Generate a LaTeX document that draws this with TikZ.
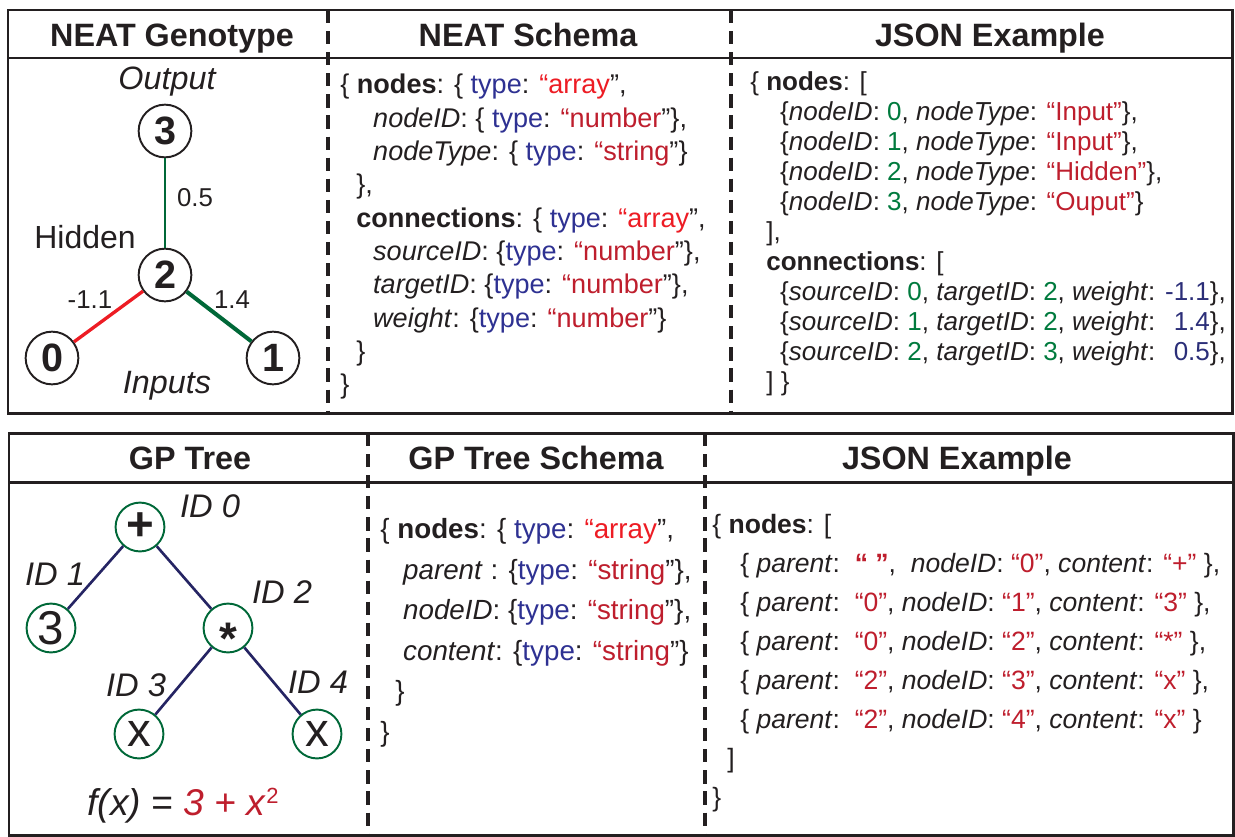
\documentclass[tikz,border=0pt]{standalone}
\usepackage{fontspec}
\setmainfont{Liberation Sans}
\usetikzlibrary{positioning}

\definecolor{ink}{RGB}{35,31,32}
\definecolor{typeblue}{RGB}{46,49,146}
\definecolor{arrred}{RGB}{237,28,36}
\definecolor{strred}{RGB}{190,30,45}
\definecolor{numgreen}{RGB}{0,122,61}
\definecolor{wnavy}{RGB}{43,46,120}
\definecolor{linkgreen}{RGB}{0,104,56}
\definecolor{linkred}{RGB}{237,28,36}
\definecolor{treenavy}{RGB}{37,36,99}

% bits of the json text
\newcommand{\jkey}[1]{\textbf{#1}}
\newcommand{\jfld}[1]{\textit{#1}}
\newcommand{\jtype}{\textcolor{typeblue}{type}}
\newcommand{\jarr}{\textcolor{arrred}{“array}”}
\newcommand{\jsch}[1]{\textcolor{strred}{“#1}”}
\newcommand{\jstr}[1]{\textcolor{strred}{“#1”}}
\newcommand{\jnum}[1]{\textcolor{numgreen}{#1}}
\newcommand{\jw}[1]{\textcolor{wnavy}{#1}}

\begin{document}
\begin{tikzpicture}[x=0.02cm, y=-0.02cm, color=ink,
    box/.style={line width=1.7pt, draw=ink},
    sep/.style={line width=1.9pt, dash pattern=on 7.5pt off 4.5pt, draw=ink},
    head/.style={anchor=base, font=\fontsize{18.4}{22}\selectfont\bfseries},
    neuron/.style={circle, draw=ink, line width=1.1pt, minimum size=30pt, inner sep=0pt, font=\fontsize{22.5}{26}\selectfont\bfseries},
    gpnode/.style={circle, draw=linkgreen, line width=1.1pt, minimum size=27.8pt, inner sep=0pt, font=\fontsize{27}{30}\selectfont},
    wlbl/.style={anchor=base, font=\fontsize{14.7}{17}\selectfont},
    glbl/.style={anchor=base, font=\fontsize{18.2}{21}\selectfont},
    idlbl/.style={anchor=base, font=\fontsize{18.6}{21}\selectfont\itshape},
    code/.style={anchor=north west, align=left, inner sep=0pt}]
\useasboundingbox (0,0) rectangle (1235,836);

% top panel
\draw[box] (8,10) rectangle (1232,413);
\draw[box] (8,58) -- (1232,58);
\draw[sep] (328,10) -- (328,413);
\draw[sep] (731,10) -- (731,413);
\node[head] (hgeno) at (172,46) {NEAT Genotype};
\node[head] (hschema) at (528,46) {NEAT Schema};
\node[head] (hjson) at (990,46) {JSON Example};

% the network
\node[neuron] (n3) at (165,131) {3};
\node[neuron] (n2) at (165,275) {2};
\node[neuron] (n0) at (52,358) {0};
\node[neuron] (n1) at (273,358) {1};
\draw[linkgreen, line width=1pt] (n3) -- (n2);
\draw[linkred, line width=1.9pt] (n2) -- (n0);
\draw[linkgreen, line width=2.3pt] (n2) -- (n1);
\node[glbl, font=\fontsize{18.4}{21}\selectfont\itshape] (lout) at (167,89) {Output};
\node[glbl] (lhid) at (85,248) {Hidden};
\node[glbl, font=\fontsize{18.4}{21}\selectfont\itshape] (linp) at (167,393) {Inputs};
\node[wlbl] (w32) at (195,206) {0.5};
\node[wlbl] (w02) at (90,308) {-1.1};
\node[wlbl] (w12) at (232,308) {1.4};

\node[code, font=\fontsize{15.4}{18.95}\selectfont] (neatschema) at (340,74) {%
\{ \jkey{nodes}: \{ \jtype: \jarr,\\
\hspace*{18.7pt}\jfld{nodeID}: \{ \jtype: \jsch{number}\},\\
\hspace*{18.7pt}\jfld{nodeType}: \{ \jtype: \jsch{string}\}\\
\hspace*{9.1pt}\},\\
\hspace*{9.1pt}\jkey{connections}: \{ \jtype: \jarr,\\
\hspace*{18.7pt}\jfld{sourceID}: \{\jtype: \jsch{number}\},\\
\hspace*{18.7pt}\jfld{targetID}: \{\jtype: \jsch{number}\},\\
\hspace*{18.7pt}\jfld{weight}: \{\jtype: \jsch{number}\}\\
\hspace*{9.1pt}\}\\
\}};

\node[code, font=\fontsize{14.8}{17.1}\selectfont] (neatjson) at (750,71) {%
\{ \jkey{nodes}: [\\
\hspace*{17pt}\{\jfld{nodeID}: \jnum{0}, \jfld{nodeType}: \jstr{Input}\},\\
\hspace*{17pt}\{\jfld{nodeID}: \jnum{1}, \jfld{nodeType}: \jstr{Input}\},\\
\hspace*{17pt}\{\jfld{nodeID}: \jnum{2}, \jfld{nodeType}: \jstr{Hidden}\},\\
\hspace*{17pt}\{\jfld{nodeID}: \jnum{3}, \jfld{nodeType}: \jstr{Ouput}\}\\
\hspace*{9.1pt}],\\
\hspace*{9.1pt}\jkey{connections}: [\\
\hspace*{17pt}\{\jfld{sourceID}: \jnum{0}, \jfld{targetID}: \jnum{2}, \jfld{weight}: \jw{-1.1}\},\\
\hspace*{17pt}\{\jfld{sourceID}: \jnum{1}, \jfld{targetID}: \jnum{2}, \jfld{weight}: \jw{\phantom{-}1.4}\},\\
\hspace*{17pt}\{\jfld{sourceID}: \jnum{2}, \jfld{targetID}: \jnum{3}, \jfld{weight}: \jw{\phantom{-}0.5}\},\\
\hspace*{9.1pt}] \}};

% bottom panel
\draw[box] (9,433) rectangle (1233,835);
\draw[box] (9,482) -- (1233,482);
\draw[sep] (368,433) -- (368,835);
\draw[sep] (705,433) -- (705,835);
\node[head] (htree) at (190,469) {GP Tree};
\node[head] (htschema) at (536,469) {GP Tree Schema};
\node[head] (htjson) at (957,469) {JSON Example};

% the tree
\node[gpnode, font=\fontsize{27}{30}\selectfont\bfseries] (plus) at (140,527) {+};
\node[gpnode] (three) at (51,628) {3};
\node[gpnode, font=\fontsize{26}{30}\selectfont\bfseries] (times) at (228,628) {\smash{\raisebox{-0.57em}{*}}};
\node[gpnode] (xl) at (139,734) {x};
\node[gpnode] (xr) at (317,734) {x};
\draw[treenavy, line width=1.5pt] (plus) -- (three);
\draw[treenavy, line width=1.5pt] (plus) -- (times);
\draw[treenavy, line width=1.5pt] (times) -- (xl);
\draw[treenavy, line width=1.5pt] (times) -- (xr);
\node[idlbl] (id0) at (210,517) {ID 0};
\node[idlbl] (id1) at (55,585) {ID 1};
\node[idlbl] (id2) at (282,603) {ID 2};
\node[idlbl] (id3) at (136,696) {ID 3};
\node[idlbl] (id4) at (318,693) {ID 4};
\node[anchor=base, font=\fontsize{21.2}{24}\selectfont] (fx) at (183,815)
  {\textit{f(x)} = \textcolor{strred}{\textit{3} + \textit{x}\raisebox{0.3em}{\fontsize{12.5}{12.5}\selectfont 2}}};

\node[code, font=\fontsize{15.8}{23.1}\selectfont] (gpschema) at (380,518) {%
\{ \jkey{nodes}: \{ \jtype: \jarr,\\
\hspace*{13pt}\jfld{parent} : \{\jtype: \jsch{string}\},\\
\hspace*{13pt}\jfld{nodeID}: \{\jtype: \jsch{string}\},\\
\hspace*{13pt}\jfld{content}: \{\jtype: \jsch{string}\}\\
\hspace*{8.5pt}\}\\
\}};

\node[code, font=\fontsize{15.1}{22.2}\selectfont] (gpjson) at (712,514) {%
\{ \jkey{nodes}: [\\
\hspace*{15.9pt}\{ \jfld{parent}:\ \ \textcolor{strred}{\textbf{“ ”}},\ \ \jfld{nodeID}: \jstr{0}, \jfld{content}: \jstr{+} \},\\
\hspace*{15.9pt}\{ \jfld{parent}:\ \ \jstr{0}, \jfld{nodeID}: \jstr{1}, \jfld{content}: \jstr{3} \},\\
\hspace*{15.9pt}\{ \jfld{parent}:\ \ \jstr{0}, \jfld{nodeID}: \jstr{2}, \jfld{content}: \jstr{*} \},\\
\hspace*{15.9pt}\{ \jfld{parent}:\ \ \jstr{2}, \jfld{nodeID}: \jstr{3}, \jfld{content}: \jstr{x} \},\\
\hspace*{15.9pt}\{ \jfld{parent}:\ \ \jstr{2}, \jfld{nodeID}: \jstr{4}, \jfld{content}: \jstr{x} \}\\
\hspace*{8.5pt}]\\
\}};
\end{tikzpicture}
\end{document}
